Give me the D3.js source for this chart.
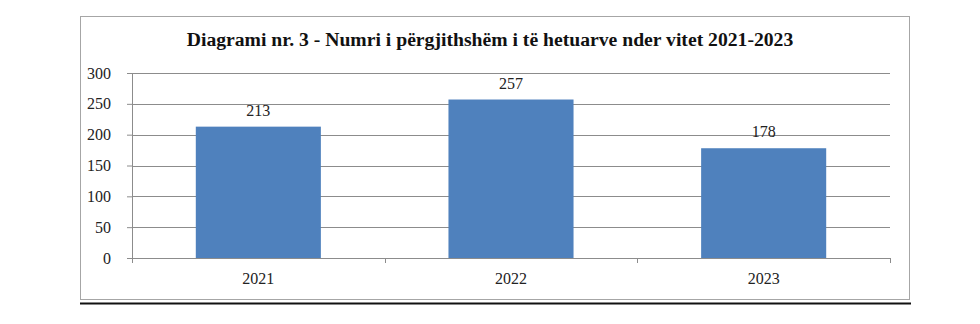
<!DOCTYPE html>
<html>
<head>
<meta charset="utf-8">
<script src="https://cdn.jsdelivr.net/npm/d3@7"></script>
<style>
  html, body { margin: 0; background: #fff; overflow: hidden; }
  svg { display: block; }
</style>
</head>
<body>
<div id="chart"></div>
<script>
// data
const years = ["2021", "2022", "2023"];
const counts = [213, 257, 178];
const yTicks = [0, 50, 100, 150, 200, 250, 300];
const title = "Diagrami nr. 3 - Numri i përgjithshëm i të hetuarve nder vitet 2021-2023";

const FONT = '"Liberation Serif", "Times New Roman", serif';
const width = 980, height = 324;
const margin = {top: 73, right: 90, bottom: 66, left: 132};
const innerWidth = width - margin.left - margin.right;
const innerHeight = height - margin.top - margin.bottom;

const svg = d3.select("#chart").append("svg")
  .attr("width", width)
  .attr("height", height);

// outer frame
svg.append("rect")
  .attr("x", 80.5).attr("y", 16.5)
  .attr("width", 829).attr("height", 283)
  .attr("fill", "#fff")
  .attr("stroke", "#a6a6a6")
  .attr("stroke-width", 1);

// black rule under the frame
svg.append("line")
  .attr("x1", 80).attr("x2", 911)
  .attr("y1", 303.5).attr("y2", 303.5)
  .attr("stroke", "#111")
  .attr("stroke-width", 2);

// title
const t = svg.append("text")
  .attr("x", 490)
  .attr("y", 46)
  .attr("text-anchor", "middle")
  .style("font-family", FONT)
  .style("font-weight", "bold")
  .style("font-size", "18px")
  .attr("fill", "#111")
  .text(title);
// fit to width seen in the picture
const tw = t.node().getComputedTextLength();
t.style("font-size", (18 * 607 / tw).toFixed(2) + "px");

const g = svg.append("g")
  .attr("transform", `translate(${margin.left},${margin.top})`);

const x = d3.scaleBand().domain(years).range([0, innerWidth]).paddingInner(0.505).paddingOuter(0.2525);
const xBand = d3.scaleBand().domain(years).range([0, innerWidth]);
const y = d3.scaleLinear().domain([0, 300]).range([innerHeight, 0]);

// gridlines
g.selectAll(".grid")
  .data(yTicks.filter(d => d > 0))
  .enter()
  .append("line")
  .attr("x1", 0).attr("x2", innerWidth)
  .attr("y1", d => Math.round(y(d)) + 0.5)
  .attr("y2", d => Math.round(y(d)) + 0.5)
  .attr("stroke", "#8c8c8c")
  .attr("stroke-width", 1);

// bars
g.selectAll(".bar")
  .data(counts)
  .enter()
  .append("rect")
  .attr("x", (d, i) => x(years[i]))
  .attr("y", d => y(d))
  .attr("width", x.bandwidth())
  .attr("height", d => innerHeight - y(d))
  .attr("fill", "#4f81bd");

// value labels
g.selectAll(".val")
  .data(counts)
  .enter()
  .append("text")
  .attr("x", (d, i) => x(years[i]) + x.bandwidth() / 2)
  .attr("y", d => y(d) - 11)
  .attr("text-anchor", "middle")
  .style("font-family", FONT)
  .style("font-size", "16px")
  .attr("fill", "#222")
  .text(d => d);

// y axis
const yAxis = g.append("g")
  .call(d3.axisLeft(y).tickValues(yTicks).tickSize(5).tickPadding(16));
yAxis.select(".domain").attr("stroke", "#8c8c8c");
yAxis.selectAll(".tick line").attr("stroke", "#8c8c8c");
yAxis.selectAll("text")
  .style("font-family", FONT)
  .style("font-size", "16px")
  .attr("fill", "#222");

// x axis
const xAxis = g.append("g")
  .attr("transform", `translate(0,${innerHeight})`)
  .call(d3.axisBottom(xBand).tickSize(0).tickPadding(15));
xAxis.select(".domain").attr("stroke", "#8c8c8c");
xAxis.selectAll("text")
  .style("font-family", FONT)
  .style("font-size", "16px")
  .attr("fill", "#222");

// category boundary ticks
g.selectAll(".xtick")
  .data([0, 1, 2, 3])
  .enter()
  .append("line")
  .attr("x1", i => Math.round(i * xBand.step()) + 0.5)
  .attr("x2", i => Math.round(i * xBand.step()) + 0.5)
  .attr("y1", innerHeight)
  .attr("y2", innerHeight + 5)
  .attr("stroke", "#8c8c8c");
</script>
</body>
</html>
